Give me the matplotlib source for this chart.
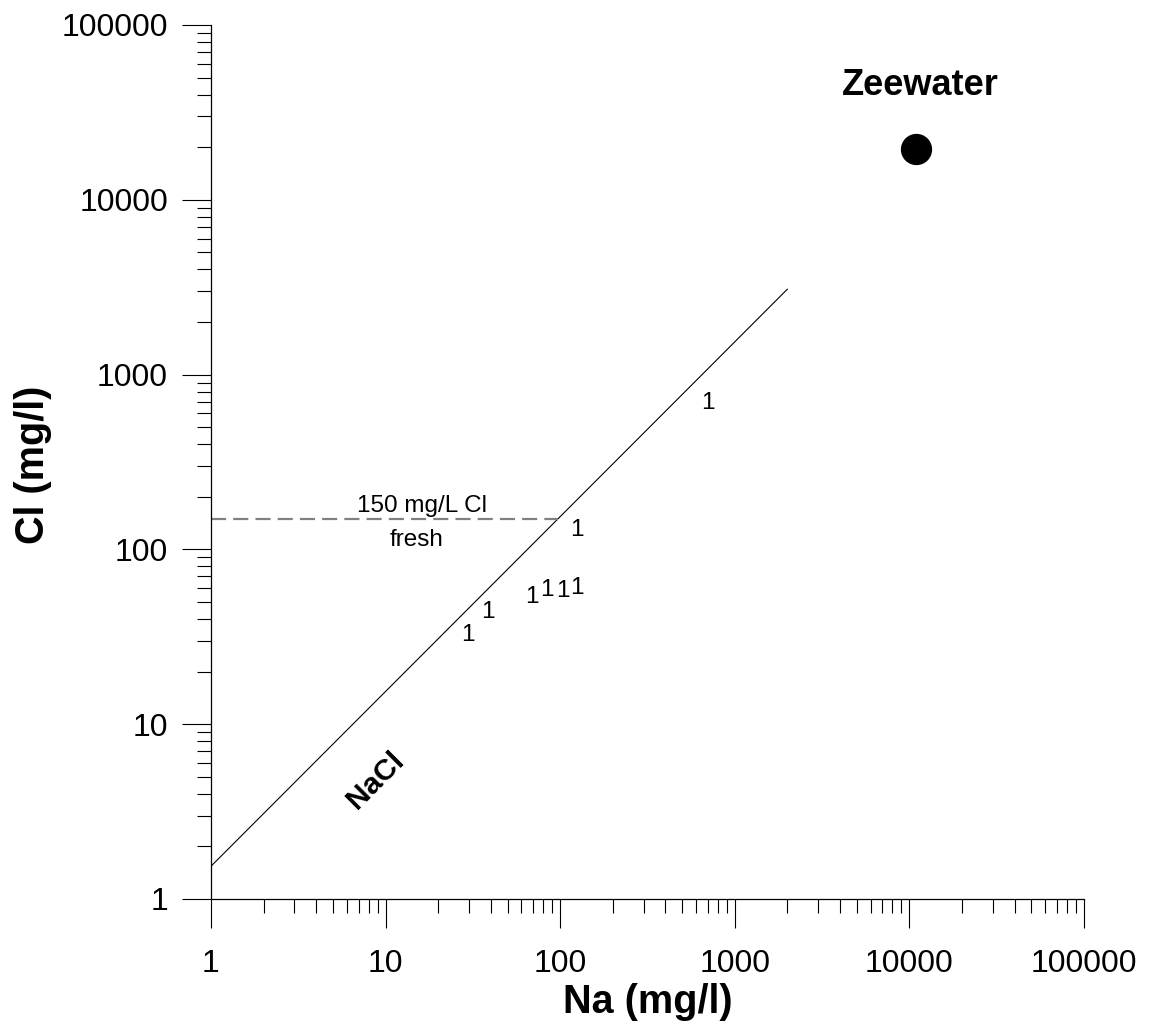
import matplotlib
matplotlib.use('Agg')
import matplotlib.pyplot as plt
from matplotlib.ticker import LogLocator, FixedLocator, NullFormatter

plt.rcParams['font.family'] = ['Liberation Sans', 'DejaVu Sans']

# NaCl ratio line (seawater Cl/Na mass ratio)
nacl_na = [1, 2000]
nacl_cl = [1.54, 3080]

# fresh / brackish limit
fresh_cl = 150
fresh_na_end = 97

# seawater
sea_na = [10900]
sea_cl = [19500]

# sample positions (labelled "1")
sample_na = [29.6, 38.6, 68.9, 84.0, 103.8, 124.8, 124.8, 702]
sample_cl = [32.4, 43.8, 53.4, 58.6, 57.8, 60.1, 129.1, 688]
sample_lab = ['1'] * len(sample_na)

ticks = [1, 10, 100, 1000, 10000, 100000]
tick_labels = ['1', '10', '100', '1000', '10000', '100000']

fig = plt.figure(figsize=(11.54, 10.25), dpi=100)
ax = fig.add_axes([211 / 1154, 126 / 1025, 873 / 1154, 874 / 1025])
ax.set_xscale('log')
ax.set_yscale('log')
ax.set_xlim(1, 100000)
ax.set_ylim(1, 100000)

ax.plot(nacl_na, nacl_cl, color='black', lw=0.8)
ax.plot([1, fresh_na_end], [fresh_cl, fresh_cl], color='#808080', lw=1.6,
        dashes=(6.8, 3.2))
ax.plot(sea_na, sea_cl, 'o', color='black', ms=21.5)

for x, y, s in zip(sample_na, sample_cl, sample_lab):
    ax.text(x, y, s, fontsize=17.5, ha='center', va='center')

ax.text(16.2, 176, '150 mg/L Cl', fontsize=17.5, ha='center', va='center')
ax.text(15.1, 113, 'fresh', fontsize=17.5, ha='center', va='center')
ax.text(11500, 44800, 'Zeewater', fontsize=26, fontweight='bold',
        ha='center', va='center')
ax.text(8.7, 4.8, 'NaCl', fontsize=21.5, fontweight='bold', rotation=45,
        ha='center', va='center', rotation_mode='anchor')

for side in ['top', 'right']:
    ax.spines[side].set_visible(False)
for side in ['left', 'bottom']:
    ax.spines[side].set_linewidth(0.9)

ax.xaxis.set_major_locator(FixedLocator(ticks))
ax.yaxis.set_major_locator(FixedLocator(ticks))
ax.set_xticklabels(tick_labels)
ax.set_yticklabels(tick_labels)
ax.xaxis.set_minor_locator(LogLocator(base=10, subs=range(2, 10), numticks=20))
ax.yaxis.set_minor_locator(LogLocator(base=10, subs=range(2, 10), numticks=20))
ax.xaxis.set_minor_formatter(NullFormatter())
ax.yaxis.set_minor_formatter(NullFormatter())

ax.tick_params(which='major', direction='out', length=21, width=0.8,
               labelsize=23)
ax.tick_params(which='minor', direction='out', length=10, width=0.8)
ax.tick_params(axis='x', which='major', pad=15)
ax.tick_params(axis='y', which='major', pad=10)

ax.set_xlabel('Na (mg/l)', fontsize=28.5, fontweight='bold')
ax.set_ylabel('Cl (mg/l)', fontsize=28.5, fontweight='bold')
ax.xaxis.set_label_coords(0.5, -0.118)
ax.yaxis.set_label_coords(-0.204, 0.497)
ax.xaxis.label.set_va('center')
ax.yaxis.label.set_va('center')

fig.savefig('out.png', dpi=100)
plt.close('all')
